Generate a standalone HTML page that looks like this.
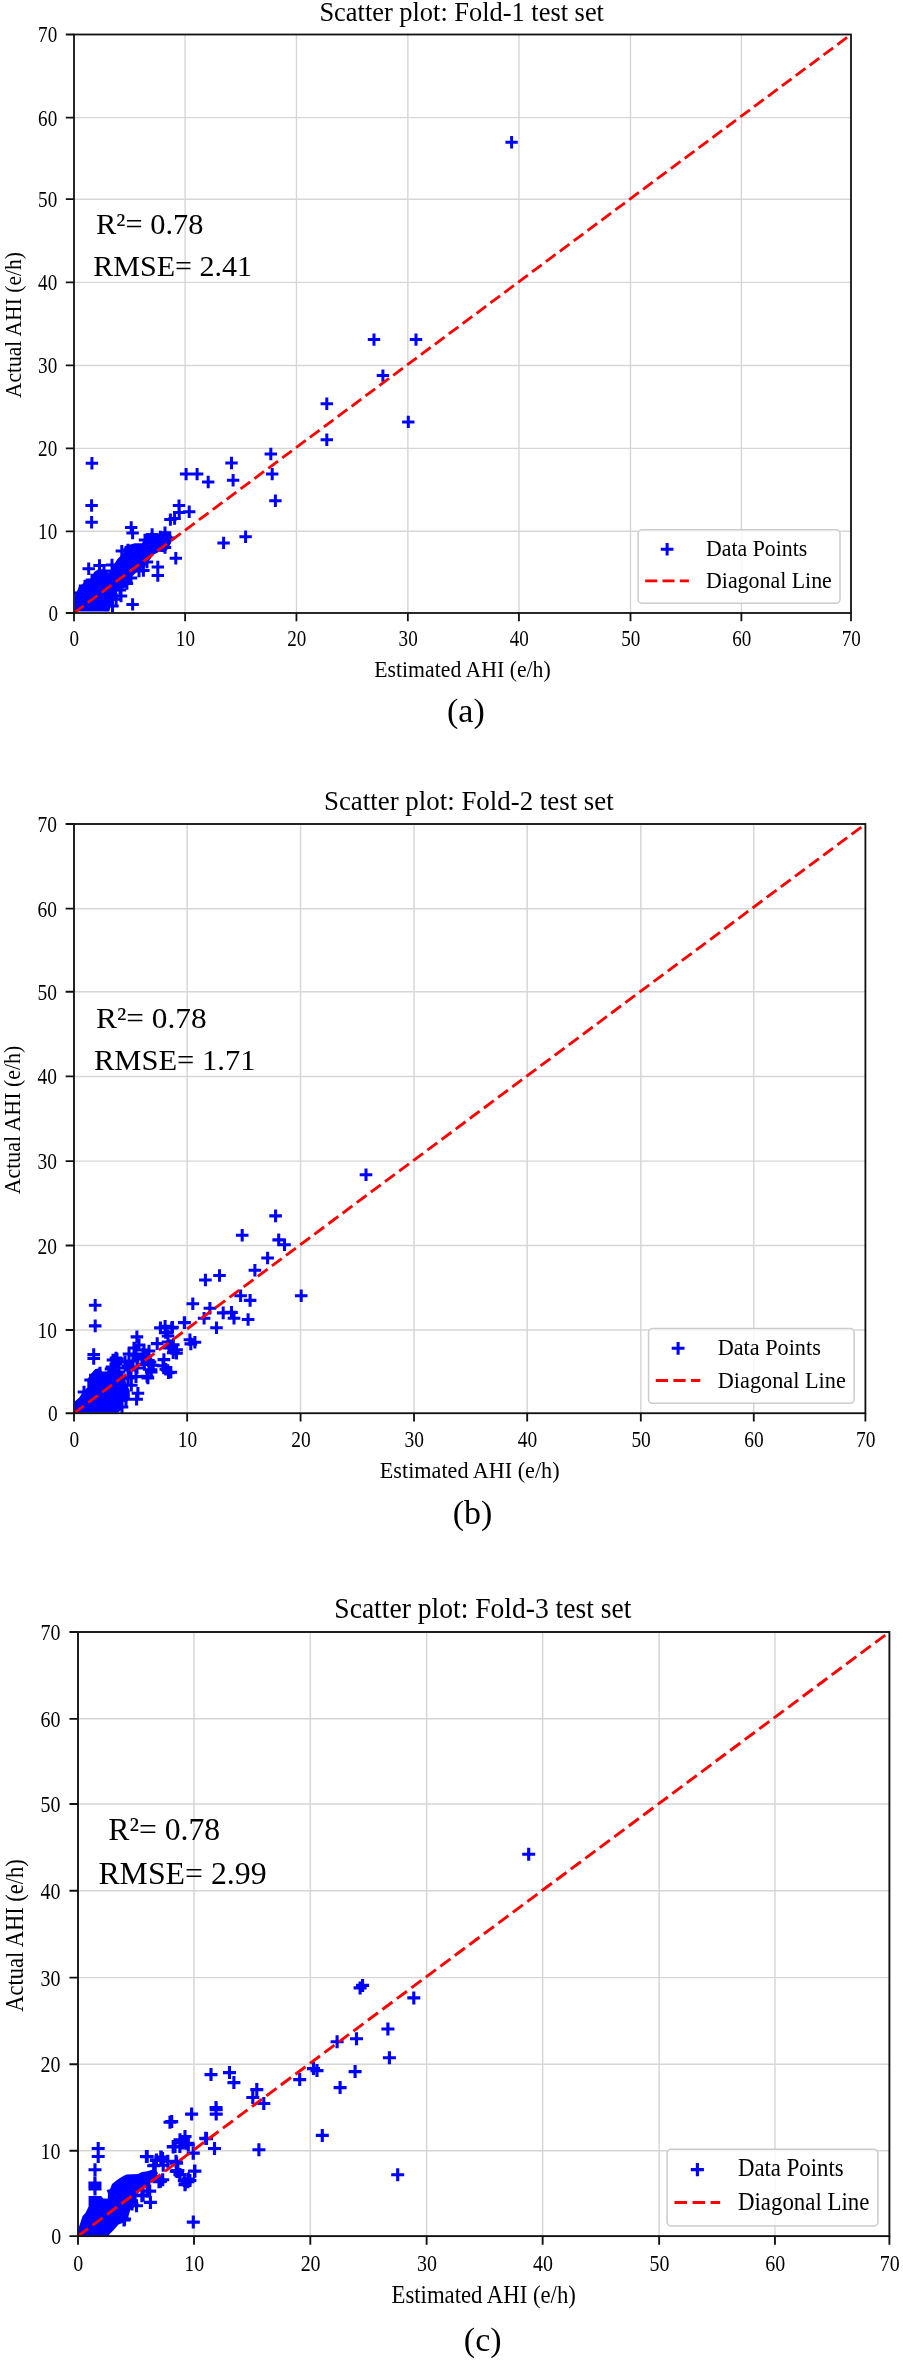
<!DOCTYPE html>
<html><head><meta charset="utf-8"><title>Scatter plots</title>
<style>html,body{margin:0;padding:0;background:#fff;}body{width:903px;height:2362px;overflow:hidden;}svg{display:block;will-change:transform;}</style>
</head><body>
<svg width="903" height="2362" viewBox="0 0 903 2362" font-family='"Liberation Serif", serif'><rect width="903" height="2362" fill="#fff"/><path d="M185.10 34.50V613.00M74.00 531.31H851.00M296.45 34.50V613.00M74.00 448.36H851.00M407.85 34.50V613.00M74.00 365.47H851.00M518.95 34.50V613.00M74.00 282.33H851.00M630.50 34.50V613.00M74.00 199.19H851.00M741.40 34.50V613.00M74.00 117.64H851.00" stroke="#d6d6d6" stroke-width="1.40" fill="none"/><clipPath id="cp0"><rect x="74.00" y="34.50" width="777.00" height="578.50"/></clipPath><g clip-path="url(#cp0)"><polygon points="75.0,611.6 75.0,595.0 78.6,587.8 84.4,582.1 91.6,577.7 94.0,572.0 98.8,569.0 104.6,570.1 108.9,572.9 111.8,567.7 117.5,559.0 123.3,553.3 124.7,546.1 130.5,544.6 134.8,543.2 142.0,543.2 144.9,537.4 147.7,534.6 152.1,532.0 156.4,534.6 160.7,533.1 165.0,530.8 170.8,533.1 172.7,538.9 170.8,543.2 167.9,549.0 165.0,552.3 159.3,551.8 153.5,554.7 149.2,560.5 144.9,566.7 137.7,571.0 131.9,576.7 127.6,586.8 117.5,591.1 115.0,600.0 111.0,605.0 109.3,611.6" fill="#0000ff"/><path d="M505.4 142.3H517.8M511.6 136.1V148.5M367.8 339.6H380.2M374.0 333.4V345.8M409.8 339.6H422.2M416.0 333.4V345.8M376.7 375.6H389.1M382.9 369.4V381.8M320.6 403.8H333.0M326.8 397.6V410.0M402.1 421.9H414.5M408.3 415.7V428.1M320.6 439.8H333.0M326.8 433.6V446.0M264.6 454.0H277.0M270.8 447.8V460.2M225.3 463.0H237.7M231.5 456.8V469.2M179.9 474.1H192.3M186.1 467.9V480.3M190.9 474.1H203.3M197.1 467.9V480.3M202.0 482.0H214.4M208.2 475.8V488.2M226.9 480.3H239.3M233.1 474.1V486.5M266.0 474.1H278.4M272.2 467.9V480.3M269.2 500.8H281.6M275.4 494.6V507.0M239.4 536.7H251.8M245.6 530.5V542.9M217.4 542.9H229.8M223.6 536.7V549.1M85.7 463.3H98.1M91.9 457.1V469.5M85.4 505.5H97.8M91.6 499.3V511.7M85.4 522.3H97.8M91.6 516.1V528.5M125.0 527.4H137.4M131.2 521.2V533.6M126.4 533.1H138.8M132.6 526.9V539.3M168.4 518.5H180.8M174.6 512.3V524.7M164.2 519.6H176.6M170.4 513.4V525.8M172.8 505.6H185.2M179.0 499.4V511.8M173.0 512.5H185.4M179.2 506.3V518.7M183.0 511.8H195.4M189.2 505.6V518.0M169.6 558.3H182.0M175.8 552.1V564.5M151.6 566.9H164.0M157.8 560.7V573.1M151.6 575.6H164.0M157.8 569.4V581.8M126.4 604.4H138.8M132.6 598.2V610.6M82.5 568.8H94.9M88.7 562.6V575.0M93.3 565.5H105.7M99.5 559.3V571.7M120.7 583.5H133.1M126.9 577.3V589.7M109.9 599.3H122.3M116.1 593.1V605.5M137.2 570.5H149.6M143.4 564.3V576.7M158.8 547.5H171.2M165.0 541.3V553.7M115.6 551.1H128.0M121.8 544.9V557.3M145.9 534.5H158.3M152.1 528.3V540.7M158.8 532.8H171.2M165.0 526.6V539.0M154.3 537.0H166.7M160.5 530.8V543.2M138.8 540.0H151.2M145.0 533.8V546.2M121.8 550.0H134.2M128.0 543.8V556.2M105.8 565.0H118.2M112.0 558.8V571.2M97.8 571.0H110.2M104.0 564.8V577.2M140.8 562.0H153.2M147.0 555.8V568.2M132.8 571.0H145.2M139.0 564.8V577.2M124.8 578.0H137.2M131.0 571.8V584.2M113.8 590.0H126.2M120.0 583.8V596.2M156.8 545.0H169.2M163.0 538.8V551.2M162.8 538.0H175.2M169.0 531.8V544.2M106.3 606.0H118.7M112.5 599.8V612.2M99.8 605.0H112.2M106.0 598.8V611.2M114.8 596.0H127.2M121.0 589.8V602.2M78.8 586.0H91.2M85.0 579.8V592.2M73.8 593.0H86.2M80.0 586.8V599.2M85.8 580.0H98.2M92.0 573.8V586.2" stroke="#0000ff" stroke-width="3.00" fill="none"/><path d="M74.00 613.00L851.00 34.50" stroke="#ff0000" stroke-width="2.80" stroke-dasharray="12.000 5.305" fill="none"/></g><rect x="74.00" y="34.50" width="777.00" height="578.50" fill="none" stroke="#111" stroke-width="1.80"/><path d="M74.00 613.00V621.20M74.00 613.00H65.80M185.10 613.00V621.20M74.00 531.31H65.80M296.45 613.00V621.20M74.00 448.36H65.80M407.85 613.00V621.20M74.00 365.47H65.80M518.95 613.00V621.20M74.00 282.33H65.80M630.50 613.00V621.20M74.00 199.19H65.80M741.40 613.00V621.20M74.00 117.64H65.80M851.00 613.00V621.20M74.00 34.50H65.80" stroke="#111" stroke-width="1.80" fill="none"/><text x="74.30" y="646.30" font-size="23.00" text-anchor="middle" textLength="9.54" lengthAdjust="spacingAndGlyphs" fill="#000" >0</text><text x="58.00" y="620.90" font-size="23.00" text-anchor="end" textLength="9.54" lengthAdjust="spacingAndGlyphs" fill="#000" >0</text><text x="185.40" y="646.30" font-size="23.00" text-anchor="middle" textLength="19.09" lengthAdjust="spacingAndGlyphs" fill="#000" >10</text><text x="57.20" y="539.21" font-size="23.00" text-anchor="end" textLength="19.09" lengthAdjust="spacingAndGlyphs" fill="#000" >10</text><text x="296.75" y="646.30" font-size="23.00" text-anchor="middle" textLength="19.09" lengthAdjust="spacingAndGlyphs" fill="#000" >20</text><text x="57.20" y="456.26" font-size="23.00" text-anchor="end" textLength="19.09" lengthAdjust="spacingAndGlyphs" fill="#000" >20</text><text x="408.15" y="646.30" font-size="23.00" text-anchor="middle" textLength="19.09" lengthAdjust="spacingAndGlyphs" fill="#000" >30</text><text x="57.20" y="373.37" font-size="23.00" text-anchor="end" textLength="19.09" lengthAdjust="spacingAndGlyphs" fill="#000" >30</text><text x="519.25" y="646.30" font-size="23.00" text-anchor="middle" textLength="19.09" lengthAdjust="spacingAndGlyphs" fill="#000" >40</text><text x="57.20" y="290.23" font-size="23.00" text-anchor="end" textLength="19.09" lengthAdjust="spacingAndGlyphs" fill="#000" >40</text><text x="630.80" y="646.30" font-size="23.00" text-anchor="middle" textLength="19.09" lengthAdjust="spacingAndGlyphs" fill="#000" >50</text><text x="57.20" y="207.09" font-size="23.00" text-anchor="end" textLength="19.09" lengthAdjust="spacingAndGlyphs" fill="#000" >50</text><text x="741.70" y="646.30" font-size="23.00" text-anchor="middle" textLength="19.09" lengthAdjust="spacingAndGlyphs" fill="#000" >60</text><text x="57.20" y="125.54" font-size="23.00" text-anchor="end" textLength="19.09" lengthAdjust="spacingAndGlyphs" fill="#000" >60</text><text x="851.30" y="646.30" font-size="23.00" text-anchor="middle" textLength="19.09" lengthAdjust="spacingAndGlyphs" fill="#000" >70</text><text x="57.20" y="42.40" font-size="23.00" text-anchor="end" textLength="19.09" lengthAdjust="spacingAndGlyphs" fill="#000" >70</text><text x="461.70" y="20.80" font-size="27.50" text-anchor="middle" textLength="284.50" lengthAdjust="spacingAndGlyphs" fill="#000" >Scatter plot: Fold-1 test set</text><text x="462.50" y="676.60" font-size="23.50" text-anchor="middle" textLength="176.50" lengthAdjust="spacingAndGlyphs" fill="#000" >Estimated AHI (e/h)</text><text transform="translate(21.30,325.10) rotate(-90)" x="0" y="0" font-size="23.50" text-anchor="middle" textLength="146.00" lengthAdjust="spacingAndGlyphs">Actual AHI (e/h)</text><rect x="638.10" y="529.80" width="201.90" height="73.50" rx="4.00" fill="#fff" fill-opacity="0.8" stroke="#cccccc" stroke-width="1.50"/><path d="M660.8 549.3H673.4M667.1 543.0V555.6" stroke="#0000ff" stroke-width="3.00"/><path d="M645.20 580.90H688.90" stroke="#ff0000" stroke-width="2.90" stroke-dasharray="12.00 5.30"/><text x="706.00" y="555.60" font-size="23.50" text-anchor="start" textLength="101.20" lengthAdjust="spacingAndGlyphs" fill="#000" >Data Points</text><text x="706.00" y="588.20" font-size="23.50" text-anchor="start" textLength="125.80" lengthAdjust="spacingAndGlyphs" fill="#000" >Diagonal Line</text><text x="96.10" y="234.30" font-size="30.00" text-anchor="start" textLength="107.30" lengthAdjust="spacingAndGlyphs" fill="#000" >R²= 0.78</text><text x="93.30" y="276.40" font-size="30.00" text-anchor="start" textLength="158.80" lengthAdjust="spacingAndGlyphs" fill="#000" >RMSE= 2.41</text><text x="465.90" y="721.50" font-size="34.00" text-anchor="middle" fill="#000" >(a)</text><path d="M187.16 824.00V1413.22M74.00 1330.01H865.40M300.57 824.00V1413.22M74.00 1245.53H865.40M414.04 824.00V1413.22M74.00 1161.10H865.40M527.19 824.00V1413.22M74.00 1076.42H865.40M640.81 824.00V1413.22M74.00 991.74H865.40M753.77 824.00V1413.22M74.00 908.68H865.40" stroke="#d6d6d6" stroke-width="1.43" fill="none"/><clipPath id="cp1"><rect x="74.00" y="824.00" width="791.40" height="589.22"/></clipPath><g clip-path="url(#cp1)"><polygon points="74.7,1412.8 74.7,1401.5 79.3,1397.5 82.6,1392.2 87.3,1387.6 87.3,1379.6 90.6,1374.3 95.3,1369.0 99.9,1368.3 102.6,1372.3 106.6,1371.6 110.0,1368.0 115.0,1366.0 121.0,1372.0 126.0,1382.0 129.8,1390.9 129.8,1397.5 126.5,1402.8 122.5,1401.5 121.8,1409.5 117.8,1412.8" fill="#0000ff"/><path d="M359.7 1174.8H372.3M366.0 1168.5V1181.1M269.3 1215.9H281.9M275.6 1209.6V1222.2M235.9 1235.3H248.5M242.2 1229.0V1241.6M272.4 1239.9H285.0M278.7 1233.6V1246.2M278.2 1244.7H290.8M284.5 1238.4V1251.0M261.3 1258.0H273.9M267.6 1251.7V1264.3M248.6 1270.3H261.2M254.9 1264.0V1276.6M213.2 1275.5H225.8M219.5 1269.2V1281.8M199.1 1280.0H211.7M205.4 1273.7V1286.3M234.3 1295.7H246.9M240.6 1289.4V1302.0M243.8 1300.4H256.4M250.1 1294.1V1306.7M294.9 1295.7H307.5M301.2 1289.4V1302.0M186.5 1303.7H199.1M192.8 1297.4V1310.0M203.6 1308.2H216.2M209.9 1301.9V1314.5M216.9 1312.9H229.5M223.2 1306.6V1319.2M225.2 1312.4H237.8M231.5 1306.1V1318.7M227.7 1318.2H240.3M234.0 1311.9V1324.5M197.8 1318.2H210.4M204.1 1311.9V1324.5M241.8 1319.5H254.4M248.1 1313.2V1325.8M178.3 1322.8H190.9M184.6 1316.5V1329.1M210.2 1327.8H222.8M216.5 1321.5V1334.1M166.2 1327.3H178.8M172.5 1321.0V1333.6M183.6 1339.8H196.2M189.9 1333.5V1346.1M188.6 1342.3H201.2M194.9 1336.0V1348.6M184.5 1343.9H197.1M190.8 1337.6V1350.2M167.0 1344.8H179.6M173.3 1338.5V1351.1M170.3 1349.7H182.9M176.6 1343.4V1356.0M164.5 1372.2H177.1M170.8 1365.9V1378.5M88.9 1305.3H101.5M95.2 1299.0V1311.6M88.9 1325.9H101.5M95.2 1319.6V1332.2M87.4 1354.5H100.0M93.7 1348.2V1360.8M87.4 1358.4H100.0M93.7 1352.1V1364.7M130.6 1336.9H143.2M136.9 1330.6V1343.2M154.1 1327.9H166.7M160.4 1321.6V1334.2M165.4 1327.9H178.0M171.7 1321.6V1334.2M159.4 1332.5H172.0M165.7 1326.2V1338.8M178.0 1322.6H190.6M184.3 1316.3V1328.9M150.9 1343.6H163.5M157.2 1337.3V1349.9M170.0 1349.8H182.6M176.3 1343.5V1356.1M164.7 1345.8H177.3M171.0 1339.5V1352.1M157.6 1359.6H170.2M163.9 1353.3V1365.9M162.2 1372.6H174.8M168.5 1366.3V1378.9M159.5 1369.3H172.1M165.8 1363.0V1375.6M141.6 1377.9H154.2M147.9 1371.6V1384.2M144.9 1371.9H157.5M151.2 1365.6V1378.2M129.7 1376.6H142.3M136.0 1370.3V1382.9M131.6 1393.2H144.2M137.9 1386.9V1399.5M119.7 1399.2H132.3M126.0 1392.9V1405.5M130.3 1399.2H142.9M136.6 1392.9V1405.5M125.0 1385.2H137.6M131.3 1378.9V1391.5M146.9 1365.3H159.5M153.2 1359.0V1371.6M166.9 1352.7H179.5M173.2 1346.4V1359.0M170.2 1353.3H182.8M176.5 1347.0V1359.6M158.8 1326.3H171.4M165.1 1320.0V1332.6M161.7 1336.0H174.3M168.0 1329.7V1342.3M161.7 1342.0H174.3M168.0 1335.7V1348.3M162.7 1348.0H175.3M169.0 1341.7V1354.3M156.7 1365.7H169.3M163.0 1359.4V1372.0M138.1 1364.4H150.7M144.4 1358.1V1370.7M144.8 1369.7H157.4M151.1 1363.4V1376.0M140.8 1376.4H153.4M147.1 1370.1V1382.7M84.3 1380.0H96.9M90.6 1373.7V1386.3M93.7 1373.0H106.3M100.0 1366.7V1379.3M77.7 1392.0H90.3M84.0 1385.7V1398.3M115.7 1407.0H128.3M122.0 1400.7V1413.3M121.7 1366.0H134.3M128.0 1359.7V1372.3M143.7 1362.0H156.3M150.0 1355.7V1368.3M124.7 1367.0H137.3M131.0 1360.7V1373.3M109.7 1364.0H122.3M116.0 1357.7V1370.3M132.7 1345.0H145.3M139.0 1338.7V1351.3M130.7 1368.0H143.3M137.0 1361.7V1374.3M121.7 1378.0H134.3M128.0 1371.7V1384.3M124.7 1369.0H137.3M131.0 1362.7V1375.3M123.7 1370.0H136.3M130.0 1363.7V1376.3M122.7 1354.0H135.3M129.0 1347.7V1360.3M135.7 1359.0H148.3M142.0 1352.7V1365.3M139.7 1359.0H152.3M146.0 1352.7V1365.3M142.7 1362.0H155.3M149.0 1355.7V1368.3M104.7 1369.0H117.3M111.0 1362.7V1375.3M136.7 1354.0H149.3M143.0 1347.7V1360.3M137.7 1350.0H150.3M144.0 1343.7V1356.3M126.7 1361.0H139.3M133.0 1354.7V1367.3M110.7 1373.0H123.3M117.0 1366.7V1379.3M107.7 1369.0H120.3M114.0 1362.7V1375.3M106.7 1360.0H119.3M113.0 1353.7V1366.3M115.7 1379.0H128.3M122.0 1372.7V1385.3M110.7 1359.0H123.3M117.0 1352.7V1365.3M136.7 1356.0H149.3M143.0 1349.7V1362.3M105.7 1367.0H118.3M112.0 1360.7V1373.3M112.7 1368.0H125.3M119.0 1361.7V1374.3M118.7 1362.0H131.3M125.0 1355.7V1368.3M112.7 1372.0H125.3M119.0 1365.7V1378.3M113.7 1377.0H126.3M120.0 1370.7V1383.3M128.7 1355.0H141.3M135.0 1348.7V1361.3M109.7 1373.0H122.3M116.0 1366.7V1379.3M129.7 1354.0H142.3M136.0 1347.7V1360.3M142.7 1351.0H155.3M149.0 1344.7V1357.3M109.7 1358.0H122.3M116.0 1351.7V1364.3M127.7 1348.0H140.3M134.0 1341.7V1354.3" stroke="#0000ff" stroke-width="3.06" fill="none"/><path d="M74.00 1413.22L865.40 824.00" stroke="#ff0000" stroke-width="2.85" stroke-dasharray="12.222 5.403" fill="none"/></g><rect x="74.00" y="824.00" width="791.40" height="589.22" fill="none" stroke="#111" stroke-width="1.83"/><path d="M74.00 1413.22V1421.57M74.00 1413.22H65.65M187.16 1413.22V1421.57M74.00 1330.01H65.65M300.57 1413.22V1421.57M74.00 1245.53H65.65M414.04 1413.22V1421.57M74.00 1161.10H65.65M527.19 1413.22V1421.57M74.00 1076.42H65.65M640.81 1413.22V1421.57M74.00 991.74H65.65M753.77 1413.22V1421.57M74.00 908.68H65.65M865.40 1413.22V1421.57M74.00 824.00H65.65" stroke="#111" stroke-width="1.83" fill="none"/><text x="74.31" y="1447.14" font-size="23.43" text-anchor="middle" textLength="9.72" lengthAdjust="spacingAndGlyphs" fill="#000" >0</text><text x="57.70" y="1421.27" font-size="23.43" text-anchor="end" textLength="9.72" lengthAdjust="spacingAndGlyphs" fill="#000" >0</text><text x="187.46" y="1447.14" font-size="23.43" text-anchor="middle" textLength="19.44" lengthAdjust="spacingAndGlyphs" fill="#000" >10</text><text x="56.89" y="1338.06" font-size="23.43" text-anchor="end" textLength="19.44" lengthAdjust="spacingAndGlyphs" fill="#000" >10</text><text x="300.88" y="1447.14" font-size="23.43" text-anchor="middle" textLength="19.44" lengthAdjust="spacingAndGlyphs" fill="#000" >20</text><text x="56.89" y="1253.58" font-size="23.43" text-anchor="end" textLength="19.44" lengthAdjust="spacingAndGlyphs" fill="#000" >20</text><text x="414.34" y="1447.14" font-size="23.43" text-anchor="middle" textLength="19.44" lengthAdjust="spacingAndGlyphs" fill="#000" >30</text><text x="56.89" y="1169.15" font-size="23.43" text-anchor="end" textLength="19.44" lengthAdjust="spacingAndGlyphs" fill="#000" >30</text><text x="527.50" y="1447.14" font-size="23.43" text-anchor="middle" textLength="19.44" lengthAdjust="spacingAndGlyphs" fill="#000" >40</text><text x="56.89" y="1084.47" font-size="23.43" text-anchor="end" textLength="19.44" lengthAdjust="spacingAndGlyphs" fill="#000" >40</text><text x="641.12" y="1447.14" font-size="23.43" text-anchor="middle" textLength="19.44" lengthAdjust="spacingAndGlyphs" fill="#000" >50</text><text x="56.89" y="999.78" font-size="23.43" text-anchor="end" textLength="19.44" lengthAdjust="spacingAndGlyphs" fill="#000" >50</text><text x="754.07" y="1447.14" font-size="23.43" text-anchor="middle" textLength="19.44" lengthAdjust="spacingAndGlyphs" fill="#000" >60</text><text x="56.89" y="916.73" font-size="23.43" text-anchor="end" textLength="19.44" lengthAdjust="spacingAndGlyphs" fill="#000" >60</text><text x="865.70" y="1447.14" font-size="23.43" text-anchor="middle" textLength="19.44" lengthAdjust="spacingAndGlyphs" fill="#000" >70</text><text x="56.89" y="832.05" font-size="23.43" text-anchor="end" textLength="19.44" lengthAdjust="spacingAndGlyphs" fill="#000" >70</text><text x="468.88" y="810.05" font-size="28.01" text-anchor="middle" textLength="289.77" lengthAdjust="spacingAndGlyphs" fill="#000" >Scatter plot: Fold-2 test set</text><text x="469.70" y="1478.00" font-size="23.94" text-anchor="middle" textLength="179.77" lengthAdjust="spacingAndGlyphs" fill="#000" >Estimated AHI (e/h)</text><text transform="translate(20.32,1119.98) rotate(-90)" x="0" y="0" font-size="23.94" text-anchor="middle" textLength="148.71" lengthAdjust="spacingAndGlyphs">Actual AHI (e/h)</text><rect x="648.55" y="1328.48" width="205.64" height="74.86" rx="4.07" fill="#fff" fill-opacity="0.8" stroke="#cccccc" stroke-width="1.53"/><path d="M671.7 1348.3H684.5M678.1 1341.9V1354.8" stroke="#0000ff" stroke-width="3.06"/><path d="M655.78 1380.52H700.29" stroke="#ff0000" stroke-width="2.95" stroke-dasharray="12.22 5.40"/><text x="717.71" y="1354.76" font-size="23.94" text-anchor="start" textLength="103.08" lengthAdjust="spacingAndGlyphs" fill="#000" >Data Points</text><text x="717.71" y="1387.96" font-size="23.94" text-anchor="start" textLength="128.13" lengthAdjust="spacingAndGlyphs" fill="#000" >Diagonal Line</text><text x="96.10" y="1027.80" font-size="30.00" text-anchor="start" textLength="110.60" lengthAdjust="spacingAndGlyphs" fill="#000" >R²= 0.78</text><text x="93.90" y="1070.30" font-size="30.00" text-anchor="start" textLength="161.60" lengthAdjust="spacingAndGlyphs" fill="#000" >RMSE= 1.71</text><text x="472.60" y="1524.00" font-size="34.00" text-anchor="middle" fill="#000" >(b)</text><path d="M194.02 1632.00V2236.11M78.00 2150.80H889.40M310.30 1632.00V2236.11M78.00 2064.19H889.40M426.63 1632.00V2236.11M78.00 1977.62H889.40M542.65 1632.00V2236.11M78.00 1890.80H889.40M659.14 1632.00V2236.11M78.00 1803.98H889.40M774.95 1632.00V2236.11M78.00 1718.82H889.40" stroke="#d6d6d6" stroke-width="1.46" fill="none"/><clipPath id="cp2"><rect x="78.00" y="1632.00" width="811.40" height="604.11"/></clipPath><g clip-path="url(#cp2)"><polygon points="78.7,2235.8 78.7,2227.8 80.7,2221.8 82.6,2215.9 85.3,2213.2 87.3,2209.2 88.6,2206.6 88.6,2195.9 101.2,2195.9 103.2,2198.6 107.9,2198.6 107.9,2193.3 106.6,2190.0 110.0,2189.2 112.0,2183.9 118.0,2179.2 123.3,2175.9 126.6,2174.6 137.9,2173.9 141.9,2171.9 147.2,2171.2 151.2,2169.9 155.0,2169.5 158.0,2173.0 156.0,2178.0 151.2,2179.9 149.9,2186.5 144.0,2188.0 139.0,2191.0 136.6,2197.1 137.0,2205.0 133.0,2208.0 130.5,2209.2 128.5,2215.9 128.5,2219.9 123.8,2222.5 118.5,2224.5 113.2,2230.5 109.2,2234.5 109.2,2235.8" fill="#0000ff"/><path d="M522.2 1854.2H535.2M528.7 1847.7V1860.7M353.6 1987.9H366.6M360.1 1981.4V1994.4M356.1 1985.4H369.1M362.6 1978.9V1991.9M407.3 1997.9H420.3M413.8 1991.4V2004.4M381.4 2029.0H394.4M387.9 2022.5V2035.5M382.9 2057.8H395.9M389.4 2051.3V2064.3M330.6 2041.7H343.6M337.1 2035.2V2048.2M350.0 2038.7H363.0M356.5 2032.2V2045.2M307.0 2068.6H320.0M313.5 2062.1V2075.1M310.5 2070.6H323.5M317.0 2064.1V2077.1M348.6 2071.6H361.6M355.1 2065.1V2078.1M293.2 2079.6H306.2M299.7 2073.1V2086.1M333.6 2087.6H346.6M340.1 2081.1V2094.1M204.5 2074.6H217.5M211.0 2068.1V2081.1M223.0 2072.6H236.0M229.5 2066.1V2079.1M227.4 2082.6H240.4M233.9 2076.1V2089.1M250.3 2089.6H263.3M256.8 2083.1V2096.1M246.3 2097.5H259.3M252.8 2091.0V2104.0M257.3 2103.5H270.3M263.8 2097.0V2110.0M209.5 2107.5H222.5M216.0 2101.0V2114.0M185.1 2114.1H198.1M191.6 2107.6V2120.6M209.7 2109.6H222.7M216.2 2103.1V2116.1M209.7 2114.1H222.7M216.2 2107.6V2120.6M165.2 2121.6H178.2M171.7 2115.1V2128.1M199.2 2138.2H212.2M205.7 2131.7V2144.7M208.0 2148.5H221.0M214.5 2142.0V2155.0M252.4 2149.8H265.4M258.9 2143.3V2156.3M178.5 2136.5H191.5M185.0 2130.0V2143.0M179.3 2143.2H192.3M185.8 2136.7V2149.7M173.5 2139.8H186.5M180.0 2133.3V2146.3M168.5 2146.5H181.5M175.0 2140.0V2153.0M181.8 2144.8H194.8M188.3 2138.3V2151.3M186.8 2153.1H199.8M193.3 2146.6V2159.6M170.1 2163.1H183.1M176.6 2156.6V2169.6M171.0 2171.4H184.0M177.5 2164.9V2177.9M173.5 2174.7H186.5M180.0 2168.2V2181.2M188.4 2171.1H201.4M194.9 2164.6V2177.6M183.4 2180.5H196.4M189.9 2174.0V2187.0M178.5 2184.7H191.5M185.0 2178.2V2191.2M186.8 2222.1H199.8M193.3 2215.6V2228.6M315.8 2135.4H328.8M322.3 2128.9V2141.9M391.2 2174.7H404.2M397.7 2168.2V2181.2M163.5 2122.2H176.5M170.0 2115.7V2128.7M91.7 2148.5H104.7M98.2 2142.0V2155.0M91.7 2156.5H104.7M98.2 2150.0V2163.0M88.5 2169.8H101.5M95.0 2163.3V2176.3M88.5 2184.4H101.5M95.0 2177.9V2190.9M88.5 2189.0H101.5M95.0 2182.5V2195.5M167.2 2146.5H180.2M173.7 2140.0V2153.0M178.5 2136.6H191.5M185.0 2130.1V2143.1M180.5 2143.2H193.5M187.0 2136.7V2149.7M139.9 2156.5H152.9M146.4 2150.0V2163.0M149.9 2160.5H162.9M156.4 2154.0V2167.0M155.2 2159.2H168.2M161.7 2152.7V2165.7M147.2 2165.8H160.2M153.7 2159.3V2172.3M169.8 2163.2H182.8M176.3 2156.7V2169.7M169.8 2171.1H182.8M176.3 2164.6V2177.6M177.8 2180.4H190.8M184.3 2173.9V2186.9M181.8 2179.1H194.8M188.3 2172.6V2185.6M152.5 2181.8H165.5M159.0 2175.3V2188.3M143.2 2191.1H156.2M149.7 2184.6V2197.6M143.9 2202.4H156.9M150.4 2195.9V2208.9M136.6 2195.0H149.6M143.1 2188.5V2201.5M130.0 2205.7H143.0M136.5 2199.2V2212.2M118.0 2219.0H131.0M124.5 2212.5V2225.5M166.7 2146.9H179.7M173.2 2140.4V2153.4M176.0 2143.0H189.0M182.5 2136.5V2149.5M154.3 2157.0H167.3M160.8 2150.5V2163.5M88.4 2183.0H101.4M94.9 2176.5V2189.5M88.4 2186.5H101.4M94.9 2180.0V2193.0M140.7 2156.6H153.7M147.2 2150.1V2163.1M150.0 2160.0H163.0M156.5 2153.5V2166.5M156.0 2158.6H169.0M162.5 2152.1V2165.1M148.7 2165.2H161.7M155.2 2158.7V2171.7M156.7 2165.2H169.7M163.2 2158.7V2171.7M161.3 2161.3H174.3M167.8 2154.8V2167.8M154.0 2181.2H167.0M160.5 2174.7V2187.7M140.7 2191.2H153.7M147.2 2184.7V2197.7M135.4 2195.8H148.4M141.9 2189.3V2202.3M166.8 2146.6H179.8M173.3 2140.1V2153.1M173.4 2146.6H186.4M179.9 2140.1V2153.1M181.4 2143.3H194.4M187.9 2136.8V2149.8M176.8 2141.9H189.8M183.3 2135.4V2148.4M200.0 2138.6H213.0M206.5 2132.1V2145.1M186.7 2153.2H199.7M193.2 2146.7V2159.7M188.1 2171.2H201.1M194.6 2164.7V2177.7M181.4 2181.8H194.4M187.9 2175.3V2188.3M178.7 2183.8H191.7M185.2 2177.3V2190.3M173.4 2174.5H186.4M179.9 2168.0V2181.0M169.5 2161.2H182.5M176.0 2154.7V2167.7M171.4 2170.5H184.4M177.9 2164.0V2177.0M154.8 2157.2H167.8M161.3 2150.7V2163.7M156.2 2179.8H169.2M162.7 2173.3V2186.3M117.5 2220.0H130.5M124.0 2213.5V2226.5M125.5 2204.0H138.5M132.0 2197.5V2210.5" stroke="#0000ff" stroke-width="3.13" fill="none"/><path d="M78.00 2236.11L889.40 1632.00" stroke="#ff0000" stroke-width="2.92" stroke-dasharray="12.531 5.540" fill="none"/></g><rect x="78.00" y="1632.00" width="811.40" height="604.11" fill="none" stroke="#111" stroke-width="1.88"/><path d="M78.00 2236.11V2244.67M78.00 2236.11H69.44M194.02 2236.11V2244.67M78.00 2150.80H69.44M310.30 2236.11V2244.67M78.00 2064.19H69.44M426.63 2236.11V2244.67M78.00 1977.62H69.44M542.65 2236.11V2244.67M78.00 1890.80H69.44M659.14 2236.11V2244.67M78.00 1803.98H69.44M774.95 2236.11V2244.67M78.00 1718.82H69.44M889.40 2236.11V2244.67M78.00 1632.00H69.44" stroke="#111" stroke-width="1.88" fill="none"/><text x="78.31" y="2270.88" font-size="24.02" text-anchor="middle" textLength="9.97" lengthAdjust="spacingAndGlyphs" fill="#000" >0</text><text x="61.29" y="2244.36" font-size="24.02" text-anchor="end" textLength="9.97" lengthAdjust="spacingAndGlyphs" fill="#000" >0</text><text x="194.33" y="2270.88" font-size="24.02" text-anchor="middle" textLength="19.94" lengthAdjust="spacingAndGlyphs" fill="#000" >10</text><text x="60.46" y="2159.05" font-size="24.02" text-anchor="end" textLength="19.94" lengthAdjust="spacingAndGlyphs" fill="#000" >10</text><text x="310.61" y="2270.88" font-size="24.02" text-anchor="middle" textLength="19.94" lengthAdjust="spacingAndGlyphs" fill="#000" >20</text><text x="60.46" y="2072.44" font-size="24.02" text-anchor="end" textLength="19.94" lengthAdjust="spacingAndGlyphs" fill="#000" >20</text><text x="426.94" y="2270.88" font-size="24.02" text-anchor="middle" textLength="19.94" lengthAdjust="spacingAndGlyphs" fill="#000" >30</text><text x="60.46" y="1985.87" font-size="24.02" text-anchor="end" textLength="19.94" lengthAdjust="spacingAndGlyphs" fill="#000" >30</text><text x="542.96" y="2270.88" font-size="24.02" text-anchor="middle" textLength="19.94" lengthAdjust="spacingAndGlyphs" fill="#000" >40</text><text x="60.46" y="1899.05" font-size="24.02" text-anchor="end" textLength="19.94" lengthAdjust="spacingAndGlyphs" fill="#000" >40</text><text x="659.45" y="2270.88" font-size="24.02" text-anchor="middle" textLength="19.94" lengthAdjust="spacingAndGlyphs" fill="#000" >50</text><text x="60.46" y="1812.23" font-size="24.02" text-anchor="end" textLength="19.94" lengthAdjust="spacingAndGlyphs" fill="#000" >50</text><text x="775.26" y="2270.88" font-size="24.02" text-anchor="middle" textLength="19.94" lengthAdjust="spacingAndGlyphs" fill="#000" >60</text><text x="60.46" y="1727.07" font-size="24.02" text-anchor="end" textLength="19.94" lengthAdjust="spacingAndGlyphs" fill="#000" >60</text><text x="889.71" y="2270.88" font-size="24.02" text-anchor="middle" textLength="19.94" lengthAdjust="spacingAndGlyphs" fill="#000" >70</text><text x="60.46" y="1640.25" font-size="24.02" text-anchor="end" textLength="19.94" lengthAdjust="spacingAndGlyphs" fill="#000" >70</text><text x="482.86" y="1617.69" font-size="28.72" text-anchor="middle" textLength="297.09" lengthAdjust="spacingAndGlyphs" fill="#000" >Scatter plot: Fold-3 test set</text><text x="483.70" y="2302.53" font-size="24.54" text-anchor="middle" textLength="184.31" lengthAdjust="spacingAndGlyphs" fill="#000" >Estimated AHI (e/h)</text><text transform="translate(22.97,1935.46) rotate(-90)" x="0" y="0" font-size="24.54" text-anchor="middle" textLength="152.46" lengthAdjust="spacingAndGlyphs">Actual AHI (e/h)</text><rect x="667.07" y="2149.23" width="210.84" height="76.75" rx="4.18" fill="#fff" fill-opacity="0.8" stroke="#cccccc" stroke-width="1.57"/><path d="M690.8 2169.6H703.9M697.4 2163.0V2176.2" stroke="#0000ff" stroke-width="3.13"/><path d="M674.49 2202.59H720.12" stroke="#ff0000" stroke-width="3.03" stroke-dasharray="12.53 5.53"/><text x="737.98" y="2176.17" font-size="24.54" text-anchor="start" textLength="105.68" lengthAdjust="spacingAndGlyphs" fill="#000" >Data Points</text><text x="737.98" y="2210.21" font-size="24.54" text-anchor="start" textLength="131.37" lengthAdjust="spacingAndGlyphs" fill="#000" >Diagonal Line</text><text x="108.30" y="1839.90" font-size="31.80" text-anchor="start" textLength="111.80" lengthAdjust="spacingAndGlyphs" fill="#000" >R²= 0.78</text><text x="98.40" y="1883.80" font-size="31.80" text-anchor="start" textLength="168.20" lengthAdjust="spacingAndGlyphs" fill="#000" >RMSE= 2.99</text><text x="482.70" y="2351.00" font-size="34.00" text-anchor="middle" fill="#000" >(c)</text></svg>
</body></html>
